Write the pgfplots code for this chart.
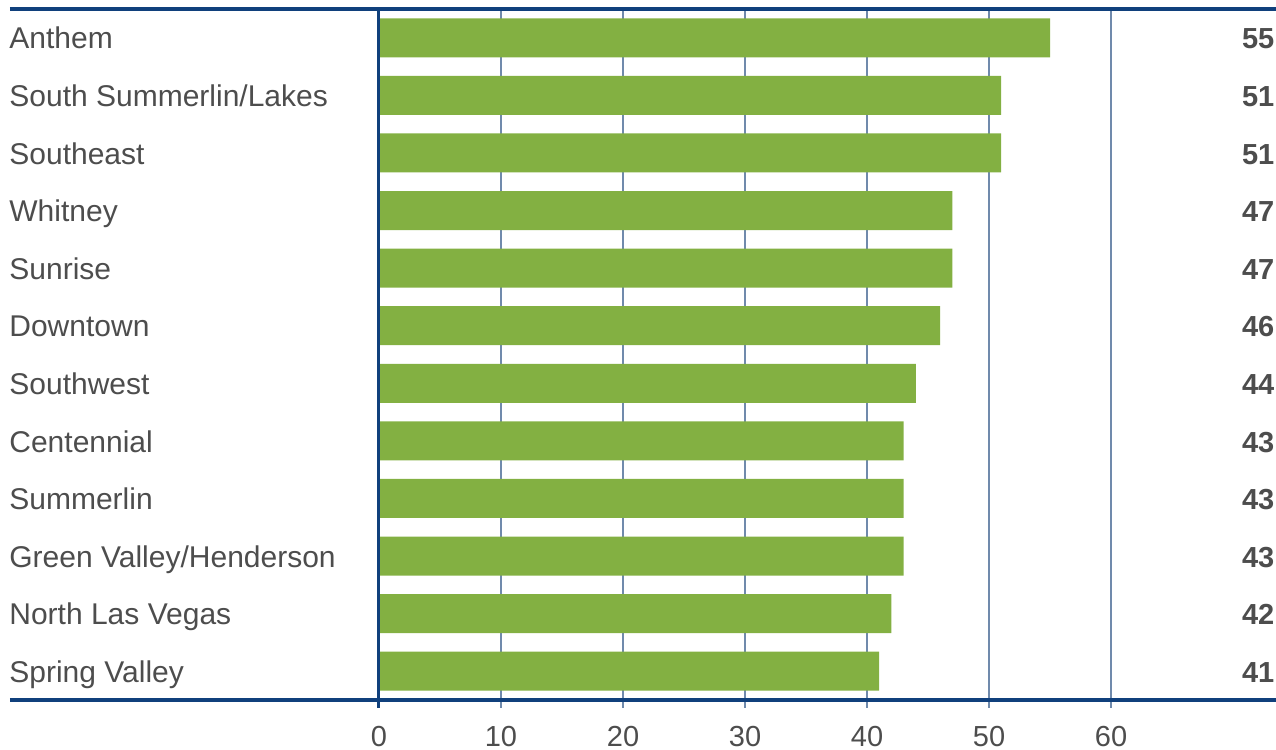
\documentclass[border=0pt]{standalone}
\usepackage{pgfplots}
\usepackage{pgfplotstable}
\pgfplotsset{compat=1.18}
\usepackage{fontspec}
\setmainfont{Liberation Sans}

\definecolor{barGreen}{RGB}{131,176,66}
\definecolor{ruleBlue}{RGB}{16,64,124}
\definecolor{gridBlue}{RGB}{112,138,172}
\definecolor{labelGray}{RGB}{77,77,77}

% idx 0 is the bottom row
\pgfplotstableread{
idx val
0 41
1 42
2 43
3 43
4 43
5 44
6 46
7 47
8 47
9 51
10 51
11 55
}\datatable

\begin{document}
\begin{tikzpicture}
\begin{axis}[
  scale only axis, width=448.5pt, height=345.5pt,
  xmin=0, xmax=73.52, ymin=-0.5, ymax=11.5,
  clip=false,
  axis line style={draw=none},
  /pgf/number format/assume math mode=true,
  xtick={0,10,...,60}, xtick pos=left, tick align=outside,
  major tick length=4pt,
  xmajorgrids, grid style={gridBlue, line width=0.6pt},
  xtick style={gridBlue, line width=0.6pt},
  xticklabel style={font=\fontsize{14.5}{16}\selectfont, text=labelGray,
    inner sep=0pt, yshift=-9pt},
  ytick={0,...,11}, ytick pos=left,
  yticklabels={Spring Valley, North Las Vegas, Green Valley/Henderson, Summerlin, Centennial, Southwest, Downtown, Sunrise, Whitney, Southeast, South Summerlin/Lakes, Anthem},
  ytick style={draw=none},
  yticklabel style={anchor=base west, inner sep=0pt, xshift=-181pt, yshift=-5.6pt,
    font=\fontsize{15}{16}\selectfont, text=labelGray},
]
\addplot[xbar, fill=barGreen, draw=none, bar width=19.5pt]
  table[x=val, y=idx] {\datatable};
\addplot[draw=none, mark=none, nodes near coords, point meta=\thisrow{val},
  nodes near coords style={anchor=base east, inner sep=0pt, yshift=-5.6pt,
    font=\fontsize{14.5}{16}\selectfont\bfseries, text=labelGray}]
  table[x expr=73.42, y=idx] {\datatable};
% frame rules and the zero line
\draw[ruleBlue, line width=1.6pt] ([xshift=-184.5pt]rel axis cs:0,1) -- (rel axis cs:1,1);
\draw[ruleBlue, line width=1.6pt] ([xshift=-184.5pt]rel axis cs:0,0) -- (rel axis cs:1,0);
\draw[ruleBlue, line width=1.5pt] (axis cs:0,11.5) -- ([yshift=-4pt]axis cs:0,-0.5);
\end{axis}
\pgfresetboundingbox
\path[use as bounding box] (-189.5pt,-25pt) rectangle (448.5pt,350pt);
\end{tikzpicture}
\end{document}
